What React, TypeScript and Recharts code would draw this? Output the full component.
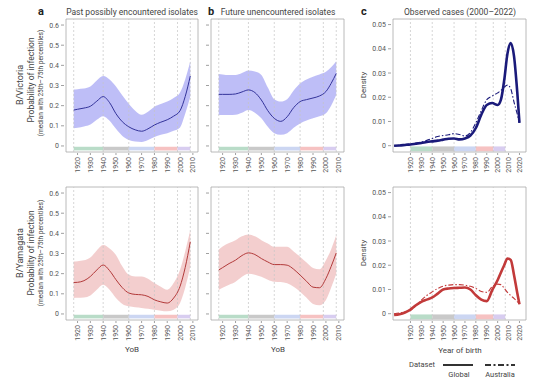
import React from 'react';
import { ComposedChart, Area, Line, XAxis, YAxis, ReferenceLine, ReferenceArea } from 'recharts';

// years of birth used in panels a and b
const yob = [1917, 1920, 1925, 1930, 1935, 1940, 1945, 1950, 1955, 1960, 1965, 1970, 1975, 1980, 1985, 1990, 1995, 2000, 2004, 2008];

// B/Victoria, past possibly encountered isolates
const vicPastMed = [0.178, 0.182, 0.188, 0.197, 0.222, 0.245, 0.215, 0.16, 0.12, 0.095, 0.08, 0.073, 0.085, 0.104, 0.118, 0.13, 0.148, 0.175, 0.245, 0.347];
const vicPastLo = [0.088, 0.09, 0.097, 0.107, 0.13, 0.148, 0.125, 0.085, 0.05, 0.03, 0.022, 0.02, 0.03, 0.045, 0.055, 0.063, 0.075, 0.092, 0.16, 0.245];
const vicPastHi = [0.28, 0.282, 0.285, 0.295, 0.325, 0.347, 0.33, 0.295, 0.25, 0.21, 0.175, 0.155, 0.17, 0.195, 0.208, 0.22, 0.238, 0.265, 0.33, 0.42];

// B/Victoria, future unencountered isolates
const vicFutMed = [0.256, 0.256, 0.256, 0.258, 0.268, 0.278, 0.265, 0.228, 0.175, 0.137, 0.122, 0.145, 0.19, 0.22, 0.23, 0.238, 0.248, 0.27, 0.31, 0.36];
const vicFutLo = [0.154, 0.154, 0.154, 0.155, 0.165, 0.178, 0.165, 0.137, 0.095, 0.063, 0.055, 0.063, 0.09, 0.112, 0.126, 0.137, 0.147, 0.162, 0.2, 0.253];
const vicFutHi = [0.357, 0.355, 0.352, 0.352, 0.362, 0.374, 0.37, 0.352, 0.29, 0.232, 0.22, 0.232, 0.275, 0.31, 0.33, 0.344, 0.355, 0.368, 0.39, 0.42];

// B/Yamagata, past possibly encountered isolates
const yamPastMed = [0.156, 0.157, 0.165, 0.186, 0.218, 0.243, 0.215, 0.17, 0.13, 0.104, 0.097, 0.095, 0.087, 0.07, 0.06, 0.054, 0.079, 0.137, 0.23, 0.358];
const yamPastLo = [0.079, 0.08, 0.082, 0.092, 0.12, 0.145, 0.12, 0.079, 0.05, 0.038, 0.033, 0.03, 0.026, 0.021, 0.016, 0.013, 0.021, 0.054, 0.13, 0.235];
const yamPastHi = [0.26, 0.262, 0.266, 0.28, 0.315, 0.342, 0.325, 0.293, 0.235, 0.194, 0.186, 0.186, 0.175, 0.153, 0.135, 0.12, 0.153, 0.219, 0.31, 0.416];

// B/Yamagata, future unencountered isolates
const yamFutMed = [0.218, 0.23, 0.25, 0.267, 0.29, 0.303, 0.295, 0.275, 0.258, 0.245, 0.245, 0.242, 0.222, 0.193, 0.162, 0.133, 0.13, 0.176, 0.235, 0.303];
const yamFutLo = [0.119, 0.13, 0.145, 0.16, 0.185, 0.2, 0.195, 0.185, 0.17, 0.16, 0.158, 0.152, 0.135, 0.11, 0.08, 0.05, 0.043, 0.069, 0.13, 0.2];
const yamFutHi = [0.32, 0.335, 0.352, 0.366, 0.385, 0.394, 0.385, 0.366, 0.35, 0.333, 0.333, 0.333, 0.31, 0.284, 0.255, 0.228, 0.222, 0.267, 0.32, 0.39];

// panel c: observed cases density by year of birth
const birthYears = [1905, 1910, 1915, 1920, 1925, 1930, 1935, 1940, 1945, 1950, 1955, 1960, 1965, 1970, 1975, 1980, 1985, 1990, 1995, 2000, 2003, 2006, 2009, 2012, 2015, 2018, 2020];
const vicGlobal = [0, 0.0001, 0.0003, 0.0005, 0.0008, 0.0011, 0.0015, 0.0018, 0.0021, 0.0025, 0.0029, 0.003, 0.0026, 0.003, 0.0042, 0.0073, 0.0128, 0.0168, 0.0176, 0.0168, 0.019, 0.027, 0.038, 0.0424, 0.037, 0.022, 0.0094];
const vicAus = [0, 0.0002, 0.0005, 0.0008, 0.0011, 0.0015, 0.0022, 0.003, 0.0038, 0.0042, 0.0045, 0.005, 0.0046, 0.004, 0.0055, 0.0095, 0.0145, 0.019, 0.0205, 0.0218, 0.0228, 0.0242, 0.025, 0.0235, 0.018, 0.013, 0.0094];
const yamGlobal = [-0.0005, -0.0002, 0.0005, 0.0017, 0.0035, 0.0049, 0.0058, 0.0067, 0.0083, 0.01, 0.0104, 0.0106, 0.0107, 0.0108, 0.01, 0.0076, 0.0058, 0.0052, 0.0097, 0.0139, 0.017, 0.02, 0.0228, 0.0222, 0.016, 0.0085, 0.0039];
const yamAus = [0, 0.0003, 0.0008, 0.0014, 0.0033, 0.0056, 0.0075, 0.009, 0.0104, 0.0114, 0.0118, 0.012, 0.012, 0.0118, 0.0113, 0.0104, 0.0092, 0.0088, 0.0111, 0.0122, 0.012, 0.0105, 0.0088, 0.0075, 0.0063, 0.005, 0.0039];

const probTicks = [0, 0.1, 0.2, 0.3, 0.4, 0.5, 0.6];
const densTicks = [0, 0.01, 0.02, 0.03, 0.04, 0.05];
const yobTicks = [1920, 1930, 1940, 1950, 1960, 1970, 1980, 1990, 2000, 2010];
const birthTicks = [1920, 1930, 1940, 1950, 1960, 1970, 1980, 1990, 2000, 2010, 2020];
const periodBounds = [1917, 1940, 1960, 1980, 1998, 2008];
const casesBounds = [1920, 1940, 1960, 1980, 1996, 2007];
const periodColors = ['#b9dcc8', '#c9c9c9', '#ccd6f2', '#f6c2c2', '#d8cdf0'];

const yobDomain = [1911, 2014];
const birthDomain = [1904, 2026];
const probDomain = [-0.03, 0.63];
const densDomain = [-0.0026, 0.0523];

const FONT = 'Roboto, "Open Sans", Arial, sans-serif';
const TXT = '#444';
const PH = 133;

const buildProb = (med: number[], lo: number[], hi: number[]) =>
  yob.map((year, i) => ({ year, med: med[i], band: [lo[i], hi[i]] }));
const buildDens = (g: number[], a: number[]) =>
  birthYears.map((year, i) => ({ year, global: g[i], aus: a[i] }));

const YTick = (p: any) => (
  <g>
    <line x1={p.x - 5} x2={p.x - 2} y1={p.y} y2={p.y} stroke="#888" strokeWidth={0.8} />
    {p.show && (
      <text x={p.x - 7} y={p.y} dy={2.5} textAnchor="end" fontSize={7} fill="#555" fontFamily={FONT}>
        {p.payload.value}
      </text>
    )}
  </g>
);

const XTick = (p: any) => (
  <g>
    <line x1={p.x} x2={p.x} y1={p.y + 1} y2={p.y + 3} stroke="#888" strokeWidth={0.8} />
    <text x={p.x} y={p.y + 5} dy={2.5} textAnchor="end" fontSize={7} fill="#555" fontFamily={FONT}
      transform={`rotate(-90, ${p.x}, ${p.y + 5})`}>
      {p.payload.value}
    </text>
  </g>
);

type PanelProps = { left: number; top: number; width: number; data: any[] };

function ProbPanel({ left, top, width, data, line, band, labels }: PanelProps & { line: string; band: string; labels: boolean }) {
  return (
    <div style={{ position: 'absolute', left: left - 30, top: top - 5 }}>
      <ComposedChart width={width + 35} height={PH + 35} data={data} margin={{ top: 5, right: 5, bottom: 0, left: 0 }}>
        <XAxis type="number" dataKey="year" domain={yobDomain} allowDataOverflow ticks={yobTicks} interval={0}
          height={30} axisLine={false} tickLine={false} tickSize={0} tickMargin={0} tick={XTick} />
        <YAxis type="number" domain={probDomain} allowDataOverflow ticks={probTicks} interval={0}
          width={30} axisLine={false} tickLine={false} tickSize={0} tickMargin={0}
          tick={(p: any) => <YTick {...p} show={labels} />} />
        {periodBounds.slice(0, -1).map((b, i) => (
          <ReferenceArea key={b} x1={b} x2={periodBounds[i + 1]} y1={-0.022} y2={-0.004}
            fill={periodColors[i]} fillOpacity={1} stroke="none" />
        ))}
        <Area dataKey="band" type="monotone" stroke="none" fill={band} fillOpacity={0.85} isAnimationActive={false} />
        {periodBounds.map((b) => (
          <ReferenceLine key={'l' + b} x={b} stroke="#c4c4c4" strokeDasharray="2 2" strokeWidth={0.7} />
        ))}
        <Line dataKey="med" type="monotone" stroke={line} strokeWidth={1} dot={false} isAnimationActive={false} />
        <ReferenceArea x1={yobDomain[0]} x2={yobDomain[1]} y1={probDomain[0]} y2={probDomain[1]}
          fill="none" stroke="#a8a8a8" strokeWidth={0.8} />
      </ComposedChart>
    </div>
  );
}

function DensPanel({ left, top, width, data, color }: PanelProps & { color: string }) {
  return (
    <div style={{ position: 'absolute', left: left - 30, top: top - 5 }}>
      <ComposedChart width={width + 35} height={PH + 35} data={data} margin={{ top: 5, right: 5, bottom: 0, left: 0 }}>
        <XAxis type="number" dataKey="year" domain={birthDomain} allowDataOverflow ticks={birthTicks} interval={0}
          height={30} axisLine={false} tickLine={false} tickSize={0} tickMargin={0} tick={XTick} />
        <YAxis type="number" domain={densDomain} allowDataOverflow ticks={densTicks} interval={0}
          width={30} axisLine={false} tickLine={false} tickSize={0} tickMargin={0}
          tick={(p: any) => <YTick {...p} show />} />
        {casesBounds.slice(0, -1).map((b, i) => (
          <ReferenceArea key={b} x1={b} x2={casesBounds[i + 1]} y1={-0.0023} y2={-0.0003}
            fill={periodColors[i]} fillOpacity={1} stroke="none" />
        ))}
        {casesBounds.map((b) => (
          <ReferenceLine key={'l' + b} x={b} stroke="#c4c4c4" strokeDasharray="2 2" strokeWidth={0.7} />
        ))}
        <Line dataKey="aus" type="monotone" stroke={color} strokeWidth={1.1} strokeDasharray="5 2 1.5 2"
          dot={false} isAnimationActive={false} />
        <Line dataKey="global" type="monotone" stroke={color} strokeWidth={2.6} dot={false} isAnimationActive={false} />
        <ReferenceArea x1={birthDomain[0]} x2={birthDomain[1]} y1={densDomain[0]} y2={densDomain[1]}
          fill="none" stroke="#a8a8a8" strokeWidth={0.8} />
      </ComposedChart>
    </div>
  );
}

const VLabel = ({ x, y, size, children }: any) => (
  <text x={x} y={y} fontSize={size} textAnchor="middle" fill={TXT} fontWeight="normal"
    transform={`rotate(-90, ${x}, ${y})`}>{children}</text>
);

export default function App() {
  const BLUE = '#33339a';
  const BLUE_BAND = '#b3b3f6';
  const RED = '#b23a3a';
  const RED_BAND = '#f1c6c6';
  return (
    <div style={{ position: 'absolute', left: 0, top: 0, width: 559, height: 379, background: '#fff', fontFamily: FONT }}>
      <ProbPanel left={66} top={19} width={132} data={buildProb(vicPastMed, vicPastLo, vicPastHi)} line={BLUE} band={BLUE_BAND} labels />
      <ProbPanel left={211} top={19} width={133} data={buildProb(vicFutMed, vicFutLo, vicFutHi)} line={BLUE} band={BLUE_BAND} labels={false} />
      <DensPanel left={393} top={19} width={133} data={buildDens(vicGlobal, vicAus)} color="#1a1a7a" />
      <ProbPanel left={66} top={187} width={132} data={buildProb(yamPastMed, yamPastLo, yamPastHi)} line={RED} band={RED_BAND} labels />
      <ProbPanel left={211} top={187} width={133} data={buildProb(yamFutMed, yamFutLo, yamFutHi)} line={RED} band={RED_BAND} labels={false} />
      <DensPanel left={393} top={187} width={133} data={buildDens(yamGlobal, yamAus)} color="#c23a3a" />

      <svg width={559} height={379} style={{ position: 'absolute', left: 0, top: 0, pointerEvents: 'none' }}
        fontFamily={FONT} fontWeight="normal">
        <text x={38} y={15} fontSize={11} fontWeight="bold" fill="#222">a</text>
        <text x={132} y={15} fontSize={8.5} textAnchor="middle" fill={TXT}>Past possibly encountered isolates</text>
        <text x={208} y={15} fontSize={11} fontWeight="bold" fill="#222">b</text>
        <text x={278} y={15} fontSize={8.5} textAnchor="middle" fill={TXT}>Future unencountered isolates</text>
        <text x={361} y={15} fontSize={11} fontWeight="bold" fill="#222">c</text>
        <text x={460} y={15} fontSize={8.5} textAnchor="middle" fill={TXT}>Observed cases (2000–2022)</text>

        <VLabel x={23} y={85} size={9}>B/Victoria</VLabel>
        <VLabel x={34} y={80} size={8.5}>Probability of infection</VLabel>
        <VLabel x={42.5} y={83} size={6.6}>(median with 25th–75th percentiles)</VLabel>
        <VLabel x={23} y={253} size={9}>B/Yamagata</VLabel>
        <VLabel x={34} y={253} size={8.5}>Probability of infection</VLabel>
        <VLabel x={42.5} y={253} size={6.6}>(median with 25th–75th percentiles)</VLabel>
        <VLabel x={366} y={85} size={8}>Density</VLabel>
        <VLabel x={366} y={253} size={8}>Density</VLabel>

        <text x={132} y={352} fontSize={8} textAnchor="middle" fill={TXT}>YoB</text>
        <text x={278} y={352} fontSize={8} textAnchor="middle" fill={TXT}>YoB</text>
        <text x={460} y={353} fontSize={8} textAnchor="middle" fill={TXT}>Year of birth</text>

        <text x={409} y={367} fontSize={7.5} fill={TXT}>Dataset</text>
        <line x1={443} x2={473} y1={365} y2={365} stroke="#333" strokeWidth={2} />
        <line x1={485} x2={515} y1={365} y2={365} stroke="#333" strokeWidth={1.8} strokeDasharray="6 2.5 2 2.5" />
        <text x={459} y={377} fontSize={7.5} textAnchor="middle" fill={TXT}>Global</text>
        <text x={500} y={377} fontSize={7.5} textAnchor="middle" fill={TXT}>Australia</text>
      </svg>
    </div>
  );
}
